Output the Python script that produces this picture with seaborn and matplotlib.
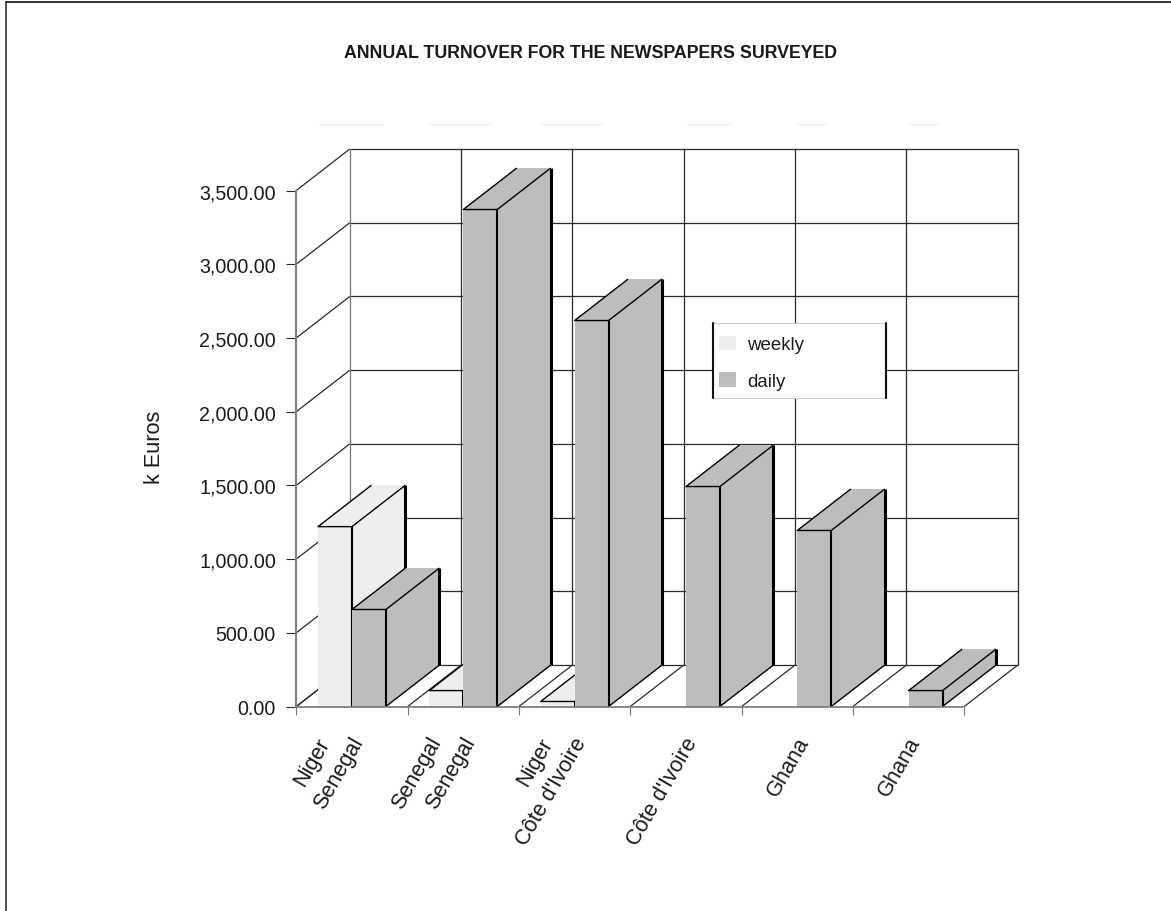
import numpy as np
import pandas as pd
import matplotlib
matplotlib.use("Agg")
import matplotlib.pyplot as plt
from matplotlib.lines import Line2D
from matplotlib.patches import Polygon, Patch, Rectangle
import seaborn as sns

title = "ANNUAL TURNOVER FOR THE NEWSPAPERS SURVEYED"
groups = ["A", "B", "C", "D", "E", "F"]
weekly_values = [1220, 108, 34, np.nan, np.nan, np.nan]
daily_values = [658, 3371, 2618, 1492, 1194, 108]
weekly_labels = ["Niger", "Senegal", "Niger", "", "", ""]
daily_labels = ["Senegal", "Senegal", "Côte d'Ivoire", "Côte d'Ivoire", "Ghana", "Ghana"]
y_ticks = [0, 500, 1000, 1500, 2000, 2500, 3000, 3500]
series_colors = {"weekly": "#eeeeee", "daily": "#bdbdbd"}
faint_rule_widths = [0.58, 0.56, 0.55, 0.42, 0.27, 0.27]

W, H = 1171, 912
sns.set_theme(style="white")
plt.rcParams["font.family"] = ["Liberation Sans", "DejaVu Sans"]
plt.rcParams["text.color"] = "#1a1a1a"


def fx(x):
    return x / W


def fy(y):
    return 1 - y / H


frame = pd.DataFrame({
    "group": groups * 2,
    "series": ["weekly"] * 6 + ["daily"] * 6,
    "value": weekly_values + daily_values,
})

fig = plt.figure(figsize=(W / 100, H / 100), dpi=100, facecolor="white")
ax = fig.add_axes([fx(296.3), fy(707.5), fx(964.3) - fx(296.3), fy(191.5) - fy(707.5)])
ax.patch.set_alpha(0)

sns.barplot(data=frame, x="group", y="value", hue="series", hue_order=["weekly", "daily"],
            palette=series_colors, width=0.61, gap=0, linewidth=0, saturation=1,
            legend=False, ax=ax, zorder=5)
ax.set_xlim(-0.5, 5.5)
ax.set_ylim(0, 3500)

# Depth of the pseudo-3D box, expressed in data units
depth_x = 53.5 / (668 / 6)
depth_y = 41.5 / 516 * 3500

grid_color = "#2a2a2a"
axis_color = "#757575"
edges = np.arange(-0.5, 6.0, 1.0)


def line(xs, ys, color="black", lw=1.0, z=2):
    ax.plot(xs, ys, color=color, lw=lw, zorder=z, clip_on=False, solid_capstyle="butt")


# Back wall, side wall and floor
for value in y_ticks:
    line([-0.5 + depth_x, 5.5 + depth_x], [value + depth_y] * 2, grid_color, 0.9)
    line([-0.5, -0.5 + depth_x], [value, value + depth_y], grid_color, 0.9)
for edge in edges:
    line([edge + depth_x] * 2, [depth_y, 3500 + depth_y], grid_color if edge > 0 else axis_color, 0.9)
    line([edge, edge + depth_x], [0, depth_y], grid_color, 0.9)

# Top and side faces, extruded from the bars seaborn has drawn
z = 5.0
bars = sorted((b for b in ax.patches if b.get_height() > 0), key=lambda b: b.get_x())
for bar in bars:
    bar.set_clip_on(False)
    x0, x1, h = bar.get_x(), bar.get_x() + bar.get_width(), bar.get_height()
    color = bar.get_facecolor()
    z += 0.1
    bar.set_zorder(z)
    ax.add_patch(Polygon([(x0, h), (x1, h), (x1 + depth_x, h + depth_y), (x0 + depth_x, h + depth_y)],
                         facecolor=color, edgecolor="none", zorder=z, clip_on=False))
    ax.add_patch(Polygon([(x1, 0), (x1 + depth_x, depth_y), (x1 + depth_x, h + depth_y), (x1, h)],
                         facecolor=color, edgecolor="none", zorder=z, clip_on=False))
    z += 0.01
    line([x0 + depth_x, x0, x1, x1 + depth_x], [h + depth_y, h, h, h + depth_y], "black", 1.0, z)
    line([x1, x1 + depth_x], [0, depth_y], "black", 1.0, z)
    line([x1, x1], [0, h], "black", 1.5, z)
    line([x1 + depth_x] * 2, [depth_y, h + depth_y], "black", 2.2, z)
    z += 0.1

# Pale rules above the plot, one per group
for i, rule_width in enumerate(faint_rule_widths):
    start = min(b.get_x() for b in bars if -0.5 + i < b.get_x() < 0.5 + i)
    line([start, start + rule_width], [3948, 3948], "#f1f1f1", 1.0)

# Axes, ticks and labels
sns.despine(ax=ax, top=True, right=True)
ax.spines["left"].set_color("#808080")
ax.spines["left"].set_linewidth(1.5)
ax.spines["bottom"].set_color(axis_color)
ax.spines["bottom"].set_linewidth(1.2)
for side in ("left", "bottom"):
    ax.spines[side].set_zorder(20)
ax.set_yticks(y_ticks, [f"{v:,.2f}" for v in y_ticks])
ax.tick_params(axis="y", length=7.2, width=0.8, color=grid_color, pad=7.5, labelsize=14.1,
               labelcolor="#1a1a1a", left=True)
ax.set_xticks(edges, [""] * len(edges))
ax.tick_params(axis="x", which="major", length=5.8, width=0.8, color=axis_color, bottom=True)

labelled = [(i - 0.1525, t) for i, t in enumerate(weekly_labels) if t]
labelled += [(i + 0.1525, t) for i, t in enumerate(daily_labels) if t]
ax.set_xticks([p - 0.09 for p, _ in labelled], [t for _, t in labelled], minor=True)
ax.tick_params(axis="x", which="minor", length=0, pad=23, labelsize=15.6, labelcolor="#1a1a1a")
for tick_label in ax.get_xticklabels(minor=True):
    tick_label.set(rotation=60, ha="right", va="center", rotation_mode="anchor")

ax.set_xlabel("")
ax.set_ylabel("")
fig.text(fx(155), fy(447), "k Euros", rotation=90, ha="center", va="center", fontsize=15.6)
fig.text(fx(591), fy(53), title, ha="center", va="center", fontsize=12.8, fontweight="bold")

# Legend box with heavy side rules
fig.add_artist(Rectangle((fx(713), fy(399)), fx(886) - fx(713), fy(324) - fy(399), transform=fig.transFigure,
                         facecolor="white", edgecolor="#c8c8c8", lw=0.8, zorder=30))
for x_pos in (713, 886):
    fig.add_artist(Line2D([fx(x_pos)] * 2, [fy(324), fy(399)], color="#111111", lw=1.5, zorder=31))
handles = [Patch(facecolor=series_colors[k], edgecolor="none", label=k) for k in ("weekly", "daily")]
legend = fig.legend(handles=handles, loc="upper left", bbox_to_anchor=(fx(713.5), fy(331)), frameon=False,
                    fontsize=13.4, handlelength=0.92, handleheight=0.85, handletextpad=0.6,
                    labelspacing=1.0, borderaxespad=0, borderpad=0.3)
legend.set_zorder(32)

# Page border on the left and top edges
fig.add_artist(Line2D([fx(6), fx(6)], [0, fy(3)], color="#333333", lw=1.2))
fig.add_artist(Line2D([fx(6), 1], [fy(3), fy(3)], color="#111111", lw=1.2))

fig.savefig("out.png", dpi=100, facecolor="white")
